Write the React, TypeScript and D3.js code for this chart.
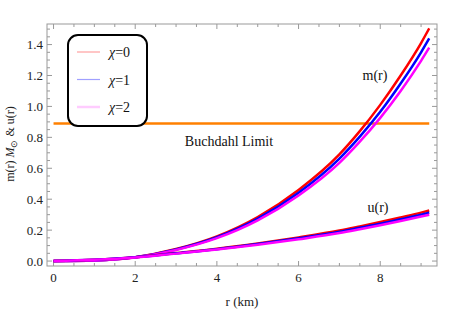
import React from "react";
import * as d3 from "d3";

const width = 463;
const height = 310;
const margin = { top: 24, right: 26, bottom: 44, left: 47 };

// radius samples (km)
const radius = [0, 1, 2, 3, 4, 5, 6, 7, 7.5, 8, 8.5, 9, 9.2];

// mass m(r) in solar masses
const massChi0 = [0, 0.004, 0.025, 0.078, 0.16, 0.285, 0.46, 0.69, 0.84, 1.01, 1.2, 1.41, 1.505];
const massChi1 = [0, 0.004, 0.024, 0.075, 0.154, 0.274, 0.442, 0.663, 0.805, 0.965, 1.148, 1.35, 1.44];
const massChi2 = [0, 0.004, 0.023, 0.072, 0.148, 0.263, 0.424, 0.635, 0.772, 0.926, 1.1, 1.295, 1.38];

// compactness u(r)
const compChi0 = [0, 0.008, 0.025, 0.052, 0.08, 0.114, 0.153, 0.197, 0.224, 0.252, 0.282, 0.313, 0.327];
const compChi1 = [0, 0.008, 0.024, 0.05, 0.077, 0.11, 0.147, 0.189, 0.215, 0.241, 0.27, 0.3, 0.313];
const compChi2 = [0, 0.008, 0.023, 0.048, 0.074, 0.105, 0.141, 0.181, 0.206, 0.232, 0.259, 0.288, 0.3];

const buchdahl = 8 / 9;

const seriesColors = ["#ff0000", "#0000ff", "#ff00ff"];
const legendColors = ["#ffa0a0", "#a0a0ff", "#ffccff"];
const legendLabels = ["0", "1", "2"];

const xTicks = [0, 2, 4, 6, 8];
const yTicks = [0, 0.2, 0.4, 0.6, 0.8, 1.0, 1.2, 1.4];

const serif = { fontFamily: "'Liberation Serif', 'Times New Roman', Times, serif" };

export default function App() {
  const xScale = d3
    .scaleLinear()
    .domain([-0.16, 9.39])
    .range([margin.left, width - margin.right]);
  const yScale = d3
    .scaleLinear()
    .domain([-0.032, 1.533])
    .range([height - margin.bottom, margin.top]);

  const line = d3
    .line<number>()
    .x((_, i) => xScale(radius[i]))
    .y((d) => yScale(d))
    .curve(d3.curveMonotoneX);

  const x0 = margin.left;
  const x1 = width - margin.right;
  const y0 = height - margin.bottom;
  const y1 = margin.top;

  const xMinor = d3.range(0, 9.01, 0.5);
  const yMinor = d3.range(0, 1.531, 0.05);

  const massSets = [massChi0, massChi1, massChi2];
  const compSets = [compChi0, compChi1, compChi2];

  return (
    <svg width={width} height={height} style={{ display: "block", position: "absolute", left: 0, top: 0 }}>
      <rect width={width} height={height} fill="#fff" />

      {/* frame ticks */}
      {xMinor.map((t, i) => {
        const major = Math.abs(t % 2) < 1e-6;
        const len = major ? 5 : 3;
        return (
          <g key={"xt" + i} stroke="#999" strokeWidth={1}>
            <line x1={xScale(t)} x2={xScale(t)} y1={y0} y2={y0 - len} />
            <line x1={xScale(t)} x2={xScale(t)} y1={y1} y2={y1 + len} />
          </g>
        );
      })}
      {yMinor.map((t, i) => {
        const major = Math.abs(t / 0.2 - Math.round(t / 0.2)) < 1e-6;
        const len = major ? 5 : 3;
        return (
          <g key={"yt" + i} stroke="#999" strokeWidth={1}>
            <line x1={x0} x2={x0 + len} y1={yScale(t)} y2={yScale(t)} />
            <line x1={x1} x2={x1 - len} y1={yScale(t)} y2={yScale(t)} />
          </g>
        );
      })}
      <rect x={x0} y={y1} width={x1 - x0} height={y0 - y1} fill="none" stroke="#999" strokeWidth={1} />

      {/* tick labels */}
      {xTicks.map((t) => (
        <text key={"xl" + t} x={xScale(t)} y={y0 + 16} textAnchor="middle" style={serif} fontSize={13} fill="#222">
          {t}
        </text>
      ))}
      {yTicks.map((t) => (
        <text key={"yl" + t} x={x0 - 4} y={yScale(t) + 4.5} textAnchor="end" style={serif} fontSize={13} fill="#222">
          {t.toFixed(1)}
        </text>
      ))}

      {/* axis titles */}
      <text x={242} y={306} textAnchor="middle" style={serif} fontSize={13} fill="#222">
        r (km)
      </text>
      <text transform="translate(14,144) rotate(-90)" textAnchor="middle" style={serif} fontSize={12} fill="#222">
        m(r) <tspan fontStyle="italic">M</tspan>
        <tspan fontSize={9} dy={3}>⊙</tspan>
        <tspan dy={-3}>{" & u(r)"}</tspan>
      </text>

      {/* Buchdahl limit */}
      <line
        x1={xScale(0)}
        x2={xScale(9.2)}
        y1={yScale(buchdahl)}
        y2={yScale(buchdahl)}
        stroke="#ff8000"
        strokeWidth={2.5}
      />

      {/* curves */}
      {massSets.map((d, i) => (
        <path key={"m" + i} d={line(d) || ""} fill="none" stroke={seriesColors[i]} strokeWidth={2.5} />
      ))}
      {compSets.map((d, i) => (
        <path key={"u" + i} d={line(d) || ""} fill="none" stroke={seriesColors[i]} strokeWidth={2.5} />
      ))}

      {/* annotations */}
      <text x={375} y={80} textAnchor="middle" style={serif} fontSize={14} fill="#111">
        m(r)
      </text>
      <text x={378} y={212} textAnchor="middle" style={serif} fontSize={14} fill="#111">
        u(r)
      </text>
      <text x={229} y={146} textAnchor="middle" style={serif} fontSize={14} fill="#111">
        Buchdahl Limit
      </text>

      {/* legend */}
      <rect x={68} y={35} width={79} height={91} rx={10} ry={10} fill="#fff" stroke="#000" strokeWidth={2} />
      {legendLabels.map((lab, i) => {
        const cy = 52 + i * 27.5;
        return (
          <g key={"lg" + i}>
            <line x1={77} x2={100} y1={cy} y2={cy} stroke={legendColors[i]} strokeWidth={i === 2 ? 2.5 : 1.2} />
            <text x={109} y={cy + 5} style={serif} fontSize={14} fill="#111">
              <tspan fontStyle="italic">χ</tspan>={lab}
            </text>
          </g>
        );
      })}
    </svg>
  );
}
